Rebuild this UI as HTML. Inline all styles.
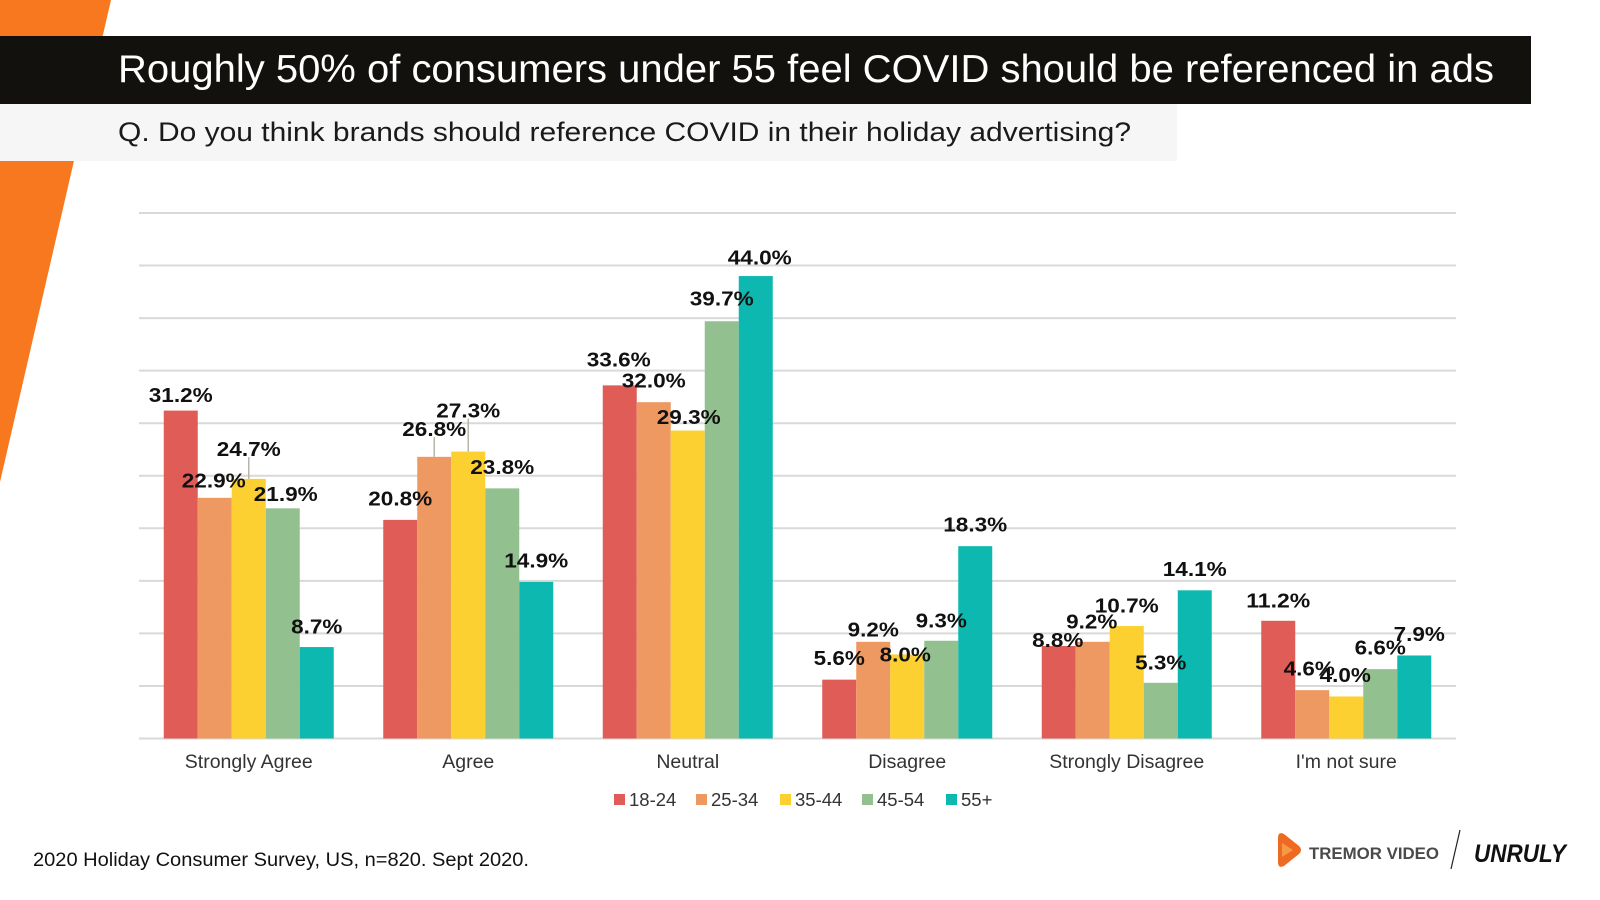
<!DOCTYPE html>
<html><head><meta charset="utf-8">
<style>
html,body{margin:0;padding:0;background:#fff;}
svg{display:block;font-family:"Liberation Sans",Arial,sans-serif;}
</style></head>
<body>
<svg id="chart" width="1600" height="900" viewBox="0 0 1600 900" xmlns="http://www.w3.org/2000/svg">
  <polygon points="0,0 111,0 0,482" fill="#f7781f"/>
  <rect x="0" y="36" width="1531" height="68" fill="#12110e"/>
  <text x="118" y="82" fill="#fff" font-size="39" textLength="1376" lengthAdjust="spacingAndGlyphs">Roughly 50% of consumers under 55 feel COVID should be referenced in ads</text>
  <rect x="0" y="104" width="1177" height="57" fill="#f6f6f6"/>
  <text x="118" y="141" fill="#1a1a1a" font-size="27" textLength="1013" lengthAdjust="spacingAndGlyphs">Q. Do you think brands should reference COVID in their holiday advertising?</text>
  <g id="grid"></g>
  <g id="bars"></g>
  <g id="labels"></g>
  <g id="xlabels"></g>
  <g id="legend"></g>
  <text x="33" y="866" fill="#111" font-size="19" textLength="496" lengthAdjust="spacingAndGlyphs">2020 Holiday Consumer Survey, US, n=820. Sept 2020.</text>
  <g>
    <path d="M1278,838 Q1278,831 1284,834 L1299,846 Q1303,850 1299,854 L1284,866 Q1278,869 1278,862 Z" fill="#ee6a22"/>
    <path d="M1282,843 L1293,850 L1282,857 Z" fill="#f79a46"/>
    <text x="1309" y="859" fill="#4a4a4a" font-size="17" font-weight="bold" textLength="130" lengthAdjust="spacingAndGlyphs">TREMOR VIDEO</text>
  </g>
  <line x1="1460" y1="830" x2="1451" y2="869" stroke="#222" stroke-width="1.2"/>
  <text x="1474" y="862" fill="#111" font-size="25" font-weight="bold" font-style="italic" textLength="92" lengthAdjust="spacingAndGlyphs">UNRULY</text>
</svg>
<script>
const categories = ["Strongly Agree","Agree","Neutral","Disagree","Strongly Disagree","I'm not sure"];
const seriesNames = ["18-24","25-34","35-44","45-54","55+"];
const s1824 = [31.2, 20.8, 33.6, 5.6, 8.8, 11.2];
const s2534 = [22.9, 26.8, 32.0, 9.2, 9.2, 4.6];
const s3544 = [24.7, 27.3, 29.3, 8.0, 10.7, 4.0];
const s4554 = [21.9, 23.8, 39.7, 9.3, 5.3, 6.6];
const s55 = [8.7, 14.9, 44.0, 18.3, 14.1, 7.9];
const yTicks = [0,5,10,15,20,25,30,35,40,45,50];

const series = [s1824, s2534, s3544, s4554, s55];
const colors = ["#e05c57","#ee9862","#fbd030","#93c08f","#0db8b0"];
// label layout offsets (pixels), not data
const labelDy = [[-15,-17,-29,-14,-20],[-21,-27,-40,-21,-21],[-25,-21,-13,-22,-18],[-21,-12,0,-20,-21],[-6,-20,-20,-20,-21],[-20,-21,-21,-21,-21]];
const labelDx = [[0,-1,0,3,0],[0,0,0,0,0],[-1,0,1,0,4],[0,0,-2,0,0],[-1,-1,0,0,0],[0,-3,-1,0,5]];
const leaders = {"0,2":1,"1,1":1,"1,2":1};

const NS = "http://www.w3.org/2000/svg";
const X0 = 139, X1 = 1456, YB = 738.5, YT = 213, VMAX = 50;
const groupW = (X1 - X0) / categories.length, barW = 34;
function yScale(v){ return YB - (v / VMAX) * (YB - YT); }
function xBar(c, s){ return X0 + c * groupW + (groupW - barW * series.length) / 2 + s * barW; }
function mk(tag, attrs, parent){ const e = document.createElementNS(NS, tag); for (const k in attrs) e.setAttribute(k, attrs[k]); parent.appendChild(e); return e; }

const grid = document.getElementById('grid');
yTicks.forEach(t => {
  const l = mk('line', {x1: X0, x2: X1, y1: yScale(t), y2: yScale(t), stroke: '#d9d9d5', 'stroke-width': 2}, grid);
  
  
});

const bars = document.getElementById('bars'), labels = document.getElementById('labels');
categories.forEach((cat, c) => {
  series.forEach((arr, s) => {
    const v = arr[c], x = xBar(c, s), y = yScale(v);
    const r = mk('rect', {x: x, y: y, width: barW, height: YB - y, fill: colors[s]}, bars);
    
    
    const ly = y + labelDy[c][s] * 1.025;
    if (leaders[c + ',' + s]) {
      const ln = mk('line', {x1: x + barW / 2, x2: x + barW / 2, y1: y, y2: ly + 8, stroke: '#b5b5a8', 'stroke-width': 1.5}, labels);
      
      
    }
    const str = v.toFixed(1) + '%';
    const t = mk('text', {x: x + barW / 2 + labelDx[c][s], y: ly + 7, 'text-anchor': 'middle', 'font-size': 20, 'font-weight': 'bold', fill: '#111', textLength: str.length * 12.8, lengthAdjust: 'spacingAndGlyphs'}, labels);
    t.textContent = str;
    
    
  });
  const xl = mk('text', {x: X0 + c * groupW + groupW / 2, y: 768, 'text-anchor': 'middle', 'font-size': 19.5, fill: '#333'}, document.getElementById('xlabels'));
  xl.textContent = cat;
  
  
});

const legend = document.getElementById('legend');
const legX = [614, 696, 780, 862, 946];
seriesNames.forEach((n, i) => {
  const g = mk('g', {}, legend);
  
  
  mk('rect', {x: legX[i], y: 794, width: 11, height: 11, fill: colors[i]}, g);
  const t = mk('text', {x: legX[i] + 15, y: 806, 'font-size': 18.5, fill: '#333'}, g);
  t.textContent = n;
});
</script>
</body></html>
